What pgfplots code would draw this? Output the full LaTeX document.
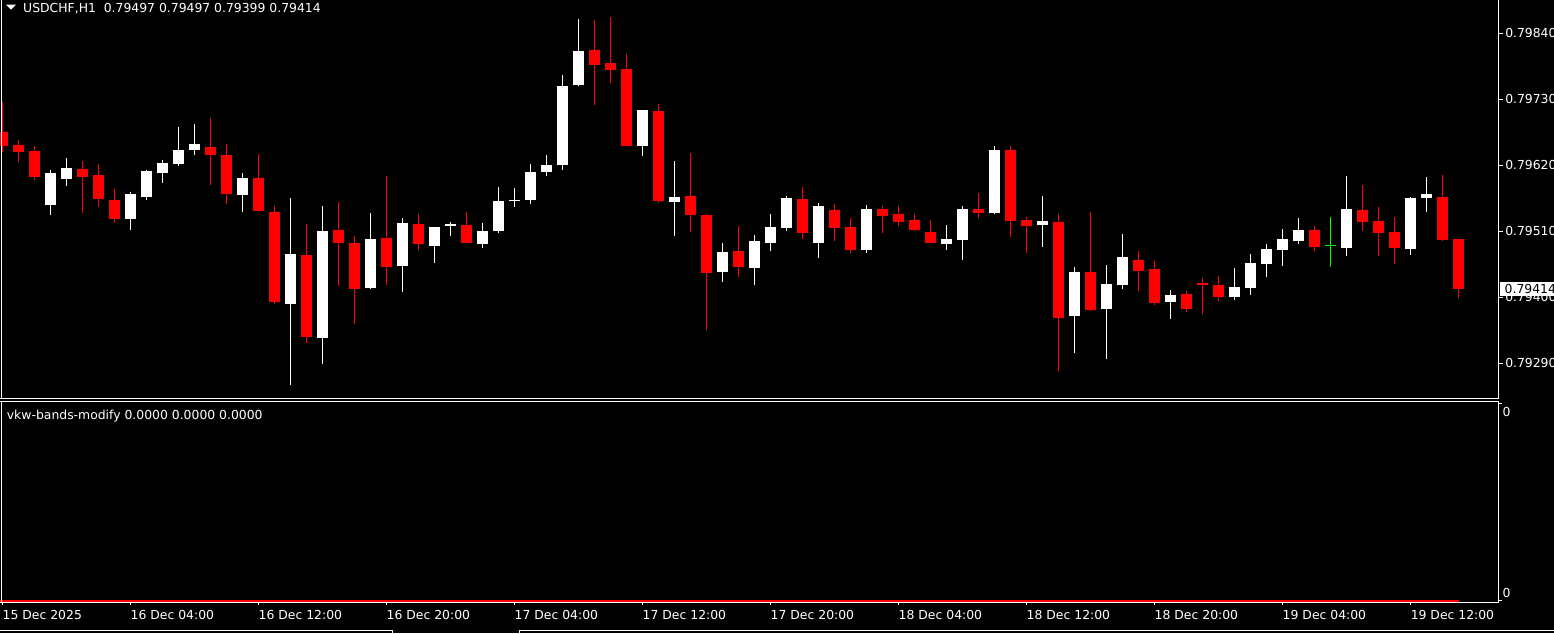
\documentclass[border=0pt]{standalone}
\usepackage{pgfplots}
\pgfplotsset{compat=1.18}
\usepackage{pgfplotstable}
\usepackage{fontspec}
\setmainfont{DejaVu Sans}
\newcommand{\mtfont}{\fontsize{12.4}{14}\selectfont}

% bullish (white) candles: index, open, high, low, close
\pgfplotstableread{
i O H L C
3 0.79554 0.79612 0.79537 0.79607
4 0.79597 0.79632 0.79586 0.79616
8 0.79531 0.79575 0.79513 0.79572
9 0.79568 0.79613 0.79562 0.79611
10 0.79608 0.79629 0.79591 0.79624
11 0.79623 0.79684 0.79619 0.79646
12 0.79646 0.79689 0.79638 0.79656
15 0.79571 0.79607 0.79543 0.79599
18 0.79389 0.79566 0.79254 0.79472
20 0.79332 0.79552 0.79289 0.79511
23 0.79416 0.79541 0.79414 0.79497
25 0.79452 0.79532 0.79409 0.79524
27 0.79486 0.79517 0.79457 0.79517
28 0.79519 0.79526 0.79502 0.79522
30 0.79489 0.79524 0.79482 0.79511
31 0.79511 0.79584 0.79507 0.79561
32 0.79560 0.79582 0.79551 0.79562
33 0.79562 0.79622 0.79556 0.79609
34 0.79609 0.79637 0.79602 0.79621
35 0.79621 0.79771 0.79612 0.79752
36 0.79754 0.79864 0.79752 0.79811
40 0.79652 0.79712 0.79636 0.79712
42 0.79559 0.79627 0.79502 0.79567
45 0.79442 0.79491 0.79426 0.79476
47 0.79449 0.79504 0.79421 0.79494
48 0.79491 0.79539 0.79477 0.79517
49 0.79516 0.79569 0.79511 0.79566
51 0.79491 0.79557 0.79466 0.79552
54 0.79479 0.79554 0.79474 0.79547
59 0.79489 0.79521 0.79479 0.79497
60 0.79496 0.79552 0.79462 0.79547
62 0.79541 0.79652 0.79539 0.79646
65 0.79521 0.79569 0.79484 0.79527
67 0.79369 0.79451 0.79307 0.79442
69 0.79381 0.79454 0.79297 0.79422
70 0.79421 0.79506 0.79414 0.79467
73 0.79392 0.79412 0.79364 0.79404
77 0.79401 0.79449 0.79396 0.79417
78 0.79416 0.79472 0.79404 0.79457
79 0.79456 0.79489 0.79434 0.79481
80 0.79479 0.79514 0.79452 0.79497
81 0.79494 0.79532 0.79489 0.79512
84 0.79482 0.79602 0.79469 0.79547
88 0.79481 0.79567 0.79471 0.79566
89 0.79566 0.79601 0.79542 0.79572
}\bull

% bearish (red) candles
\pgfplotstableread{
i O H L C
0 0.79676 0.79726 0.79643 0.79653
1 0.79654 0.79662 0.79626 0.79643
2 0.79644 0.79653 0.79596 0.79601
5 0.79614 0.79627 0.79541 0.79601
6 0.79604 0.79623 0.79551 0.79564
7 0.79563 0.79580 0.79524 0.79531
13 0.79651 0.79699 0.79588 0.79638
14 0.79637 0.79656 0.79556 0.79573
16 0.79599 0.79639 0.79543 0.79544
17 0.79542 0.79552 0.79389 0.79392
19 0.79471 0.79522 0.79324 0.79334
21 0.79513 0.79559 0.79419 0.79491
22 0.79491 0.79502 0.79356 0.79414
24 0.79499 0.79602 0.79421 0.79451
26 0.79522 0.79539 0.79479 0.79489
29 0.79521 0.79542 0.79490 0.79491
37 0.79812 0.79862 0.79721 0.79787
38 0.79791 0.79867 0.79757 0.79779
39 0.79781 0.79806 0.79652 0.79652
41 0.79711 0.79722 0.79557 0.79561
43 0.79569 0.79641 0.79509 0.79537
44 0.79537 0.79539 0.79346 0.79441
46 0.79477 0.79519 0.79434 0.79451
50 0.79564 0.79584 0.79497 0.79507
52 0.79546 0.79556 0.79494 0.79516
53 0.79517 0.79532 0.79474 0.79479
55 0.79547 0.79552 0.79507 0.79536
56 0.79539 0.79552 0.79519 0.79526
57 0.79529 0.79539 0.79511 0.79512
58 0.79509 0.79529 0.79490 0.79491
61 0.79547 0.79574 0.79532 0.79541
63 0.79646 0.79652 0.79501 0.79527
64 0.79529 0.79534 0.79474 0.79519
66 0.79526 0.79539 0.79277 0.79366
68 0.79442 0.79542 0.79377 0.79379
71 0.79462 0.79477 0.79411 0.79444
72 0.79447 0.79461 0.79387 0.79391
74 0.79406 0.79411 0.79376 0.79381
75 0.79424 0.79432 0.79372 0.79421
76 0.79421 0.79436 0.79394 0.79401
82 0.79512 0.79519 0.79477 0.79484
85 0.79546 0.79587 0.79511 0.79526
86 0.79527 0.79551 0.79469 0.79507
87 0.79509 0.79534 0.79456 0.79482
90 0.79567 0.79604 0.79494 0.79496
91 0.79497 0.79497 0.79399 0.79414
}\bear

% doji (open = close)
\pgfplotstableread{
i O H L C
83 0.79487 0.79534 0.79451 0.79487
}\doji

\pgfplotsset{
  candle/.style n args={2}{only marks, mark size=0pt, mark options={draw=none, fill=none},
    error bars/.cd, y dir=plus, y explicit, error mark=none,
    error bar style={line width=#1, draw=#2}},
}

\begin{document}
\begin{tikzpicture}[x=1pt,y=1pt]
\fill[black] (0,0) rectangle (1554,633);
\useasboundingbox (0,0) rectangle (1554,633);

% ---------------- main price panel ----------------
\begin{axis}[
  at={(0pt,234.5pt)}, anchor=south west, scale only axis,
  width=1498.5pt, height=398.5pt,
  xmin=-0.15625, xmax=93.5, ymin=0.7923133, ymax=0.798955,
  axis line style={draw=none},
  xtick=\empty,
  ytick={0.7929,0.794,0.7951,0.7962,0.7973,0.7984},
  yticklabels={0.79290,0.79400,0.79510,0.79620,0.79730,0.79840},
  ytick pos=right, tick align=outside, major tick length=4pt,
  tick style={draw=white, line width=1pt},
  yticklabel style={anchor=west, inner sep=0pt, xshift=2.5pt, text=white, font=\mtfont},
  /pgf/number format/assume math mode=true,
]
% wicks
\addplot[candle={1pt}{white}]
  table[x=i, y=L, y error plus expr={\thisrow{H}-\thisrow{L}}] {\bull};
\addplot[candle={1pt}{red}]
  table[x=i, y=L, y error plus expr={\thisrow{H}-\thisrow{L}}] {\bear};
\addplot[candle={1pt}{green}]
  table[x=i, y=L, y error plus expr={\thisrow{H}-\thisrow{L}}] {\doji};
% bodies
\addplot[candle={11pt}{white}]
  table[x=i, y=O, y error plus expr={\thisrow{C}-\thisrow{O}}] {\bull};
\addplot[candle={11pt}{red}]
  table[x=i, y=C, y error plus expr={\thisrow{O}-\thisrow{C}}] {\bear};
\addplot[only marks, mark=-, mark size=5.5pt, green, mark options={line width=1pt}]
  table[x=i, y=C] {\doji};
\end{axis}

% ---------------- indicator panel ----------------
\begin{axis}[
  at={(0pt,31pt)}, anchor=south west, scale only axis,
  width=1498.5pt, height=200.5pt,
  xmin=-0.15625, xmax=93.5, ymin=-1.2, ymax=199.3,
  axis line style={draw=none},
  xtick={0,8,...,88},
  xticklabels={15 Dec 2025, 16 Dec 04:00, 16 Dec 12:00, 16 Dec 20:00, 17 Dec 04:00, 17 Dec 12:00, 17 Dec 20:00, 18 Dec 04:00, 18 Dec 12:00, 18 Dec 20:00, 19 Dec 04:00, 19 Dec 12:00},
  xtick pos=left, ytick pos=right,
  ytick={0,197.5}, yticklabels={},
  tick align=outside, major tick length=3pt,
  tick style={draw=white, line width=1pt},
  xticklabel style={anchor=north west, inner sep=0pt, yshift=-5pt, text=white, font=\mtfont},
]
\addplot[red, line width=1.4pt] coordinates {(-1,0) (91,0)};
\end{axis}

% frames
\draw[white, line width=1pt] (1,633) -- (1,234.5);
\draw[white, line width=1pt] (0,234.5) -- (1498.5,234.5);
\draw[white, line width=1pt] (1498.5,633) -- (1498.5,234.5);
\draw[white, line width=1pt] (1,231.5) -- (1,31);
\draw[white, line width=1pt] (0,231.5) -- (1498.5,231.5);
\draw[white, line width=1pt] (1498.5,231.5) -- (1498.5,31);
\draw[white, line width=1pt] (0,31) -- (1498.5,31);
% tab bar
\draw[white, line width=1pt] (0,2.5) -- (392,2.5) -- (392,0);
\draw[white, line width=1pt] (519,0) -- (519,2.5) -- (1554,2.5);

% texts
\fill[white] (6,628.3) -- (16,628.3) -- (11,623.3) -- cycle;
\node[anchor=base west, inner sep=0pt, text=white, font=\mtfont] at (23,620.3)
  {USDCHF,H1\ \ 0.79497 0.79497 0.79399 0.79414};
\node[anchor=base west, inner sep=0pt, text=white, font=\mtfont] at (6.7,214)
  {vkw-bands-modify 0.0000 0.0000 0.0000};
\node[anchor=west, inner sep=0pt, text=white, font=\mtfont] at (1502.5,221.3) {0};
\node[anchor=west, inner sep=0pt, text=white, font=\mtfont] at (1502.5,40) {0};
% current price label
\fill[white] (1500,337) rectangle (1554,351.5);
\node[anchor=west, inner sep=0pt, text=black, font=\mtfont] at (1504.5,344.2) {0.79414};
\end{tikzpicture}
\end{document}
